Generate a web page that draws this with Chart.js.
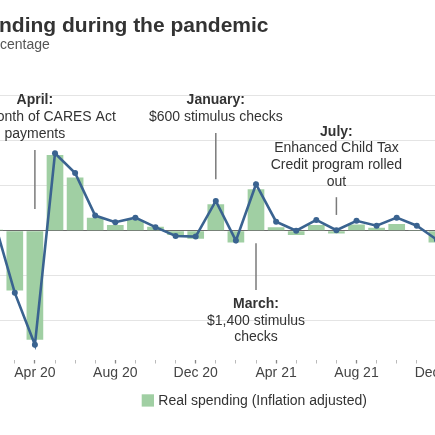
<!DOCTYPE html>
<html>
<head>
<meta charset="utf-8">
<script src="https://cdn.jsdelivr.net/npm/chart.js@4"></script>
<style>
  html, body { margin: 0; padding: 0; width: 435px; height: 435px; overflow: hidden; background: #fff; }
  body { position: relative; font-family: "Liberation Sans", Arial, sans-serif; }
  #title { position: absolute; left: -1px; top: 13px; font-weight: bold; font-size: 21px; line-height: 24px; color: #333; white-space: nowrap; }
  #subtitle { position: absolute; left: 0px; top: 36px; font-size: 14px; line-height: 16px; color: #555; white-space: nowrap; }
  #wrap { position: absolute; left: -40px; top: 0; width: 520px; height: 435px; }
</style>
</head>
<body>
<div id="wrap"><canvas id="c" width="520" height="435" style="width:520px;height:435px"></canvas></div>
<div id="title">nding during the pandemic</div>
<div id="subtitle">centage</div>
<script>
// ---- data ----
const months = ['Feb 20','Mar 20','Apr 20','May 20','Jun 20','Jul 20','Aug 20','Sep 20','Oct 20','Nov 20','Dec 20',
                'Jan 21','Feb 21','Mar 21','Apr 21','May 21','Jun 21','Jul 21','Aug 21','Sep 21','Oct 21','Nov 21','Dec 21'];
const tickLabels = ['Apr 20','Aug 20','Dec 20','Apr 21','Aug 21','Dec 21'];
const realSpending = [0.1, -6.65, -12.1, 8.4, 5.9, 1.45, 0.64, 1.2, 0.45, -0.47, -0.9,
                      2.94, -1.3, 4.6, 0.38, -0.47, 0.64, -0.3, 0.7, 0.33, 0.74, 0.08, -1.3];
const nominalSpending = [0.9, -6.9, -12.67, 8.6, 6.4, 1.68, 0.94, 1.45, 0.39, -0.58, -0.65,
                         3.3, -1.1, 5.16, 1.0, 0.0, 1.2, 0.05, 1.1, 0.55, 1.45, 0.55, -1.0];
const yTicks = [-10, -5, 0, 5, 10, 15];
const noteMonths = ['Apr 20', 'Jan 21', 'Jul 21', 'Mar 21'];
const noteTexts = [
  ['April:', 'First month of CARES Act', 'payments'],
  ['January:', '$600 stimulus checks'],
  ['July:', 'Enhanced Child Tax', 'Credit program rolled', 'out'],
  ['March:', '$1,400 stimulus', 'checks']
];
const noteTextTop = [14.45, 14.45, 10.99, -8.15];
const noteLeaderFrom = [8.96, 10.85, 3.72, -1.39];
const noteLeaderTo = [2.42, 5.71, 1.75, -6.57];

const BAR_COLOR = '#a0cfa3';
const LINE_COLOR = '#3a6390';
const FONT = '"Liberation Sans", Arial, sans-serif';

const notesPlugin = {
  id: 'notes',
  afterDatasetsDraw(chart) {
    const ctx = chart.ctx, xs = chart.scales.x, ys = chart.scales.y;
    ctx.save();
    noteMonths.forEach((m, i) => {
      const x = xs.getPixelForValue(months.indexOf(m));
      ctx.strokeStyle = '#7a7a7a';
      ctx.lineWidth = 1.5;
      ctx.beginPath();
      ctx.moveTo(x, ys.getPixelForValue(noteLeaderFrom[i]));
      ctx.lineTo(x, ys.getPixelForValue(noteLeaderTo[i]));
      ctx.stroke();
      const y0 = ys.getPixelForValue(noteTextTop[i]);
      ctx.textAlign = 'center';
      ctx.textBaseline = 'middle';
      ctx.fillStyle = '#333';
      noteTexts[i].forEach((t, k) => {
        ctx.font = (k === 0 ? 'bold ' : '') + '14px ' + FONT;
        ctx.fillText(t, x, y0 + k * 16.7);
      });
    });
    ctx.restore();
  }
};

const legendPlugin = {
  id: 'customLegend',
  afterDraw(chart) {
    const ctx = chart.ctx;
    const ds = chart.data.datasets[0];
    ctx.save();
    ctx.fillStyle = ds.backgroundColor;
    ctx.fillRect(181.7, 394.3, 12.3, 12.3);
    ctx.fillStyle = '#333';
    ctx.font = '14px ' + FONT;
    ctx.textAlign = 'left';
    ctx.textBaseline = 'middle';
    ctx.fillText(ds.label, 198.3, 400.8);
    ctx.restore();
  }
};

new Chart(document.getElementById('c'), {
  data: {
    labels: months,
    datasets: [
      { type: 'bar', label: 'Real spending (Inflation adjusted)', data: realSpending,
        backgroundColor: BAR_COLOR, borderWidth: 0, order: 2,
        categoryPercentage: 1.0, barPercentage: 0.83 },
      { type: 'line', label: 'Nominal spending', data: nominalSpending,
        borderColor: LINE_COLOR, backgroundColor: LINE_COLOR, borderWidth: 2.6,
        pointRadius: 3, pointHoverRadius: 3, pointBorderWidth: 0, tension: 0, order: 1 }
    ]
  },
  options: {
    responsive: false,
    animation: false,
    layout: { padding: { left: 0, right: 33.05, top: 95.6, bottom: 55.5 } },
    plugins: { legend: { display: false }, title: { display: false }, tooltip: { enabled: false } },
    scales: {
      x: {
        type: 'category',
        offset: true,
        grid: { display: true, offset: false, drawOnChartArea: false, drawTicks: true, tickLength: 4,
                tickColor: (c) => tickLabels.includes(months[c.index]) ? '#888' : '#bbb',
                tickWidth: (c) => tickLabels.includes(months[c.index]) ? 1.3 : 1 },
        border: { display: false },
        ticks: {
          autoSkip: false, maxRotation: 0, minRotation: 0, padding: 1,
          color: '#444', font: { family: FONT, size: 14 },
          callback: (v, i) => tickLabels.includes(months[i]) ? months[i] : ''
        },
        afterFit: (s) => { s.height = 20; }
      },
      y: {
        min: -14.3, max: 15,
        afterBuildTicks: (s) => { s.ticks = yTicks.map(v => ({ value: v })); },
        grid: { drawTicks: false, lineWidth: 1,
                color: (c) => c.tick && c.tick.value === 0 ? '#6a6a6a' : '#e4e4e4' },
        border: { display: false },
        ticks: { display: false },
        afterFit: (s) => { s.width = 24.65; }
      }
    }
  },
  plugins: [notesPlugin, legendPlugin]
});
</script>
</body>
</html>
